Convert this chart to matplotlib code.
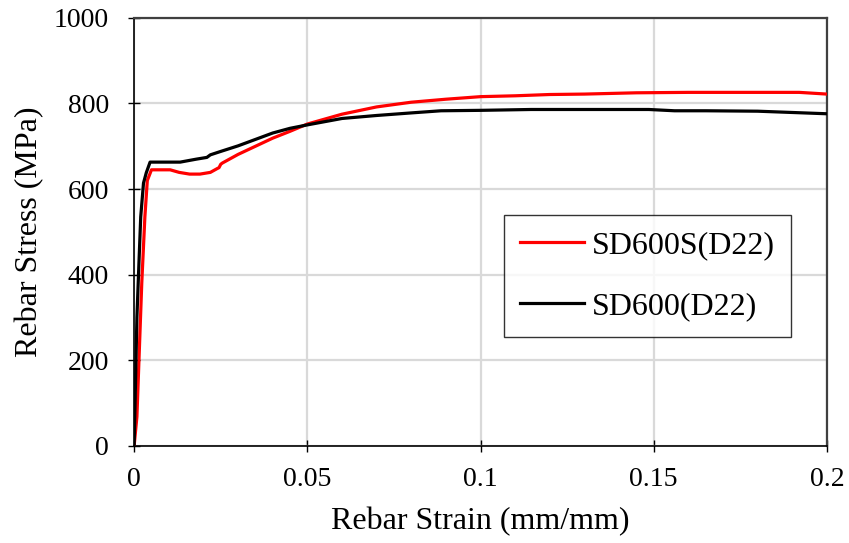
import matplotlib
matplotlib.use("Agg")
import matplotlib.pyplot as plt

plt.rcParams["font.family"] = ["Liberation Serif", "DejaVu Serif"]

# SD600S(D22) - red
strain_s = [0, 0.0008, 0.0015, 0.0022, 0.0031, 0.0038, 0.0050, 0.0080, 0.0104,
            0.013, 0.016, 0.019, 0.022, 0.024, 0.0245, 0.025, 0.0255, 0.030,
            0.035, 0.040, 0.045, 0.050, 0.060, 0.070, 0.080, 0.090, 0.100,
            0.110, 0.120, 0.130, 0.145, 0.160, 0.180, 0.192, 0.200]
stress_s = [0, 68, 224, 380, 535, 620, 645, 645, 645,
            639, 635, 635, 639, 648, 650, 658, 661, 681,
            700, 719, 735, 752, 775, 792, 803, 810, 816,
            818, 821, 822, 825, 826, 826, 826, 822]

# SD600(D22) - black
strain_n = [0, 0.0004, 0.0008, 0.0014, 0.0019, 0.0027, 0.0035, 0.0046, 0.0080,
            0.0133, 0.018, 0.021, 0.022, 0.025, 0.030, 0.035, 0.040, 0.045,
            0.050, 0.060, 0.070, 0.080, 0.0886, 0.100, 0.1146, 0.1486, 0.156,
            0.165, 0.180, 0.200]
stress_n = [0, 150, 300, 430, 535, 614, 638, 663, 663,
            663, 670, 674, 680, 688, 701, 716, 731, 742,
            750, 765, 772, 778, 783, 784, 786, 786, 783,
            783, 782, 776]

fig = plt.figure(figsize=(8.49, 5.43), dpi=100)
ax = fig.add_axes([0.158, 0.179, 0.816, 0.788])

ax.plot(strain_s, stress_s, color="#ff0000", lw=2.3, label="SD600S(D22)", zorder=3)
ax.plot(strain_n, stress_n, color="black", lw=2.3, label="SD600(D22)", zorder=3)

ax.set_xlim(0, 0.2)
ax.set_ylim(0, 1000)
ax.set_xticks([0, 0.05, 0.1, 0.15, 0.2])
ax.set_xticklabels(["0", "0.05", "0.1", "0.15", "0.2"])
ax.set_yticks(range(0, 1001, 200))
ax.grid(True, color="#d9d9d9", lw=1.6)
ax.set_axisbelow(True)
for s in ("top", "right"):
    ax.spines[s].set_color("#404040")
    ax.spines[s].set_linewidth(1.6)
for s in ("left", "bottom"):
    ax.spines[s].set_color("black")
    ax.spines[s].set_linewidth(1.2)
ax.tick_params(direction="inout", length=8, width=1, labelsize=20)
ax.tick_params(axis="x", pad=11)
ax.tick_params(axis="y", pad=14)

ax.set_xlabel("Rebar Strain (mm/mm)", fontsize=23, labelpad=11)
ax.set_ylabel("Rebar Stress (MPa)", fontsize=23, labelpad=7)

leg = ax.legend(loc="upper left", bbox_to_anchor=(0.534, 0.54), fontsize=23,
                frameon=True, fancybox=False, edgecolor="black",
                handlelength=2.0, handletextpad=0.25, labelspacing=1.0,
                borderpad=0.5, borderaxespad=0)
leg.get_frame().set_linewidth(1.0)

fig.savefig("out.png", dpi=100, facecolor="white")
